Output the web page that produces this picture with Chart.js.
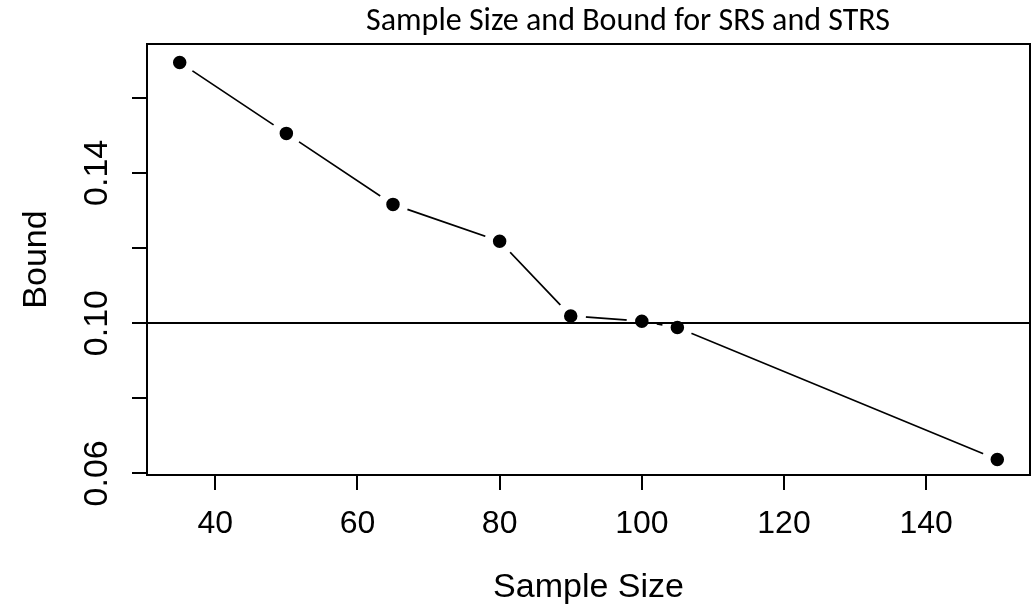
<!DOCTYPE html>
<html>
<head>
<meta charset="utf-8">
<script src="https://cdn.jsdelivr.net/npm/chart.js@4.4.1/dist/chart.umd.min.js"></script>
<style>
  html, body { margin: 0; padding: 0; background: #fff; overflow: hidden; }
  #wrap { width: 1036px; height: 606px; position: relative; }
  #wrap canvas { display: block; }
</style>
</head>
<body>
<div id="wrap"><canvas id="boundChart"></canvas></div>
<script>
// data
const sampleSizes = [35, 50, 65, 80, 90, 100, 105, 150];
const bounds = [0.1694, 0.1505, 0.1316, 0.1218, 0.1019, 0.1005, 0.0988, 0.0637];
const targetBound = 0.10;

const xTickValues = [40, 60, 80, 100, 120, 140];
const yTickValues = [0.06, 0.08, 0.10, 0.12, 0.14, 0.16];
const yTickLabels = ["0.06", "", "0.10", "", "0.14", ""];

const chartTitle = "Sample Size and Bound for SRS and STRS";
const xTitle = "Sample Size";
const yTitle = "Bound";

const axisFont = "'Liberation Sans', Arial, sans-serif";

// box around the plot, the 0.10 reference line and the title
const framePlugin = {
  id: "frame",
  afterDatasetsDraw(chart) {
    const { ctx, chartArea, scales } = chart;
    const yRef = scales.y.getPixelForValue(targetBound);
    ctx.save();
    ctx.strokeStyle = "#000";
    ctx.lineWidth = 2;
    ctx.beginPath();
    ctx.moveTo(chartArea.left, yRef);
    ctx.lineTo(chartArea.right, yRef);
    ctx.stroke();
    ctx.strokeRect(chartArea.left, chartArea.top,
      chartArea.right - chartArea.left, chartArea.bottom - chartArea.top);
    ctx.restore();
  },
  afterDraw(chart) {
    const ctx = chart.ctx;
    ctx.save();
    ctx.fillStyle = "#000";
    ctx.font = "32px Carlito, Lato, sans-serif";
    ctx.textAlign = "center";
    ctx.textBaseline = "alphabetic";
    ctx.fillText(chartTitle, 628, 30);
    ctx.restore();
  }
};

const ctx = document.getElementById("boundChart").getContext("2d");
new Chart(ctx, {
  type: "line",
  data: {
    datasets: [
      {
        data: sampleSizes.map((x, i) => ({ x: x, y: bounds[i] })),
        borderColor: "#000",
        borderWidth: 1.7,
        tension: 0,
        pointRadius: 11,
        pointBackgroundColor: "#000",
        pointBorderColor: "#fff",
        pointBorderWidth: 8.5,
        clip: false,
      },
    ],
  },
  options: {
    responsive: true,
    maintainAspectRatio: false,
    animation: false,
    events: [],
    layout: { autoPadding: false, padding: { top: 44, right: 6, left: 0, bottom: 0 } },
    plugins: {
      legend: { display: false },
      tooltip: { enabled: false },
    },
    scales: {
      x: {
        type: "linear",
        min: 30.4,
        max: 154.6,
        afterBuildTicks: (s) => { s.ticks = xTickValues.map((v) => ({ value: v })); },
        afterFit: (s) => { s.height = 131; s.paddingLeft = 0; s.paddingRight = 0; },
        border: { display: false },
        grid: { drawOnChartArea: false, drawTicks: true, tickLength: 15, color: "#000", lineWidth: 2 },
        ticks: {
          autoSkip: false,
          maxRotation: 0,
          padding: 15,
          color: "#000",
          font: { family: axisFont, size: 32 },
          callback: (v) => String(v),
        },
        title: {
          display: true,
          text: xTitle,
          color: "#000",
          font: { family: axisFont, size: 34, lineHeight: 1 },
          padding: { top: 0, bottom: 1 },
        },
      },
      y: {
        min: 0.05955,
        max: 0.1743,
        afterBuildTicks: (s) => { s.ticks = yTickValues.map((v) => ({ value: v })); },
        afterFit: (s) => { s.width = 147; s.paddingTop = 0; s.paddingBottom = 0; },
        border: { display: false },
        grid: { drawOnChartArea: false, drawTicks: true, tickLength: 15, color: "#000", lineWidth: 2 },
        ticks: {
          autoSkip: false,
          minRotation: 90,
          maxRotation: 90,
          crossAlign: "center",
          padding: 1,
          color: "#000",
          font: { family: axisFont, size: 34 },
          callback: (v, i) => yTickLabels[i],
        },
        title: {
          display: true,
          text: yTitle,
          color: "#000",
          font: { family: axisFont, size: 34, lineHeight: 1 },
          padding: { top: 20, bottom: 0 },
        },
      },
    },
  },
  plugins: [framePlugin],
});
</script>
</body>
</html>
